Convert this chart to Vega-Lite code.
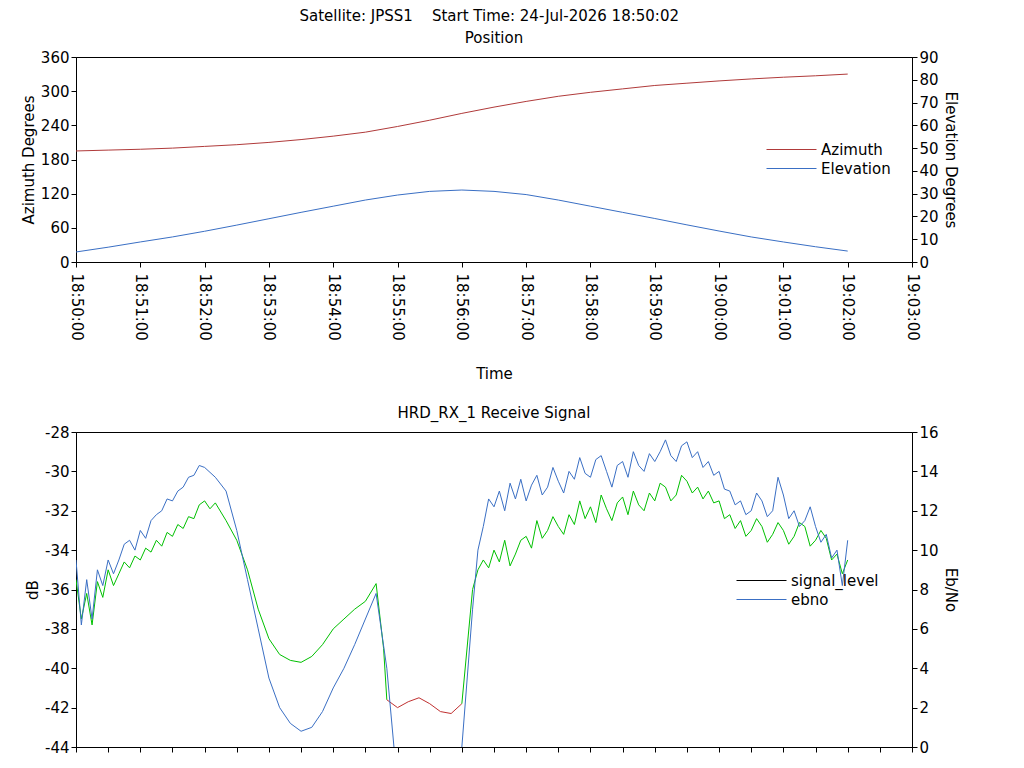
{
  "$schema": "https://vega.github.io/schema/vega-lite/v6.json",
  "padding": {"left": 20, "top": 8, "right": 5, "bottom": 0},
  "background": "white",
  "title": {"text": "Satellite: JPSS1\u00a0\u00a0\u00a0\u00a0Start Time: 24-Jul-2026 18:50:02", "anchor": "middle", "fontSize": 15, "fontWeight": "normal", "color": "black", "offset": 7},
  "config": {
    "font": "DejaVu Sans",
    "view": {"stroke": "black", "strokeWidth": 1},
    "axis": {"grid": false, "labelFontSize": 15, "titleFontSize": 15, "titleFontWeight": "normal", "labelColor": "black", "titleColor": "black", "domainColor": "black", "tickColor": "black", "labelExpr": "isDate(datum.value) ? datum.label : '' + datum.value"},
    "title": {"fontSize": 15, "fontWeight": "normal", "offset": 4},
    "legend": {"labelFontSize": 15, "symbolType": "stroke", "symbolSize": 2500, "symbolStrokeWidth": 1, "clipHeight": 17, "rowPadding": 2}
  },
  "datasets": {
    "pos": [
      {"t": "2026-07-24T18:50:00", "az": 195, "el": 4.4},
      {"t": "2026-07-24T18:50:30", "az": 196.5, "el": 6.5},
      {"t": "2026-07-24T18:51:00", "az": 198, "el": 8.8},
      {"t": "2026-07-24T18:51:30", "az": 200, "el": 11},
      {"t": "2026-07-24T18:52:00", "az": 203, "el": 13.5},
      {"t": "2026-07-24T18:52:30", "az": 206, "el": 16.2},
      {"t": "2026-07-24T18:53:00", "az": 210, "el": 19},
      {"t": "2026-07-24T18:53:30", "az": 215, "el": 21.8},
      {"t": "2026-07-24T18:54:00", "az": 221, "el": 24.5},
      {"t": "2026-07-24T18:54:30", "az": 228, "el": 27.2},
      {"t": "2026-07-24T18:55:00", "az": 238, "el": 29.4},
      {"t": "2026-07-24T18:55:30", "az": 249, "el": 31},
      {"t": "2026-07-24T18:56:00", "az": 261, "el": 31.6},
      {"t": "2026-07-24T18:56:30", "az": 272, "el": 31},
      {"t": "2026-07-24T18:57:00", "az": 282, "el": 29.6},
      {"t": "2026-07-24T18:57:30", "az": 291, "el": 27.2},
      {"t": "2026-07-24T18:58:00", "az": 298, "el": 24.5},
      {"t": "2026-07-24T18:58:30", "az": 304, "el": 21.8},
      {"t": "2026-07-24T18:59:00", "az": 310, "el": 19.1},
      {"t": "2026-07-24T18:59:30", "az": 314, "el": 16.3},
      {"t": "2026-07-24T19:00:00", "az": 318, "el": 13.6},
      {"t": "2026-07-24T19:00:30", "az": 321.5, "el": 11},
      {"t": "2026-07-24T19:01:00", "az": 324.5, "el": 8.8},
      {"t": "2026-07-24T19:01:30", "az": 327, "el": 6.7},
      {"t": "2026-07-24T19:02:00", "az": 330, "el": 4.8}
    ],
    "sig": [
      {"t": "2026-07-24T18:50:00", "db": -35.5, "lock": "locked"},
      {"t": "2026-07-24T18:50:05", "db": -37.5, "lock": "locked"},
      {"t": "2026-07-24T18:50:10", "db": -36.2, "lock": "locked"},
      {"t": "2026-07-24T18:50:15", "db": -37.8, "lock": "locked"},
      {"t": "2026-07-24T18:50:20", "db": -35.6, "lock": "locked"},
      {"t": "2026-07-24T18:50:25", "db": -36.4, "lock": "locked"},
      {"t": "2026-07-24T18:50:30", "db": -35, "lock": "locked"},
      {"t": "2026-07-24T18:50:35", "db": -35.8, "lock": "locked"},
      {"t": "2026-07-24T18:50:40", "db": -35.2, "lock": "locked"},
      {"t": "2026-07-24T18:50:45", "db": -34.6, "lock": "locked"},
      {"t": "2026-07-24T18:50:50", "db": -34.9, "lock": "locked"},
      {"t": "2026-07-24T18:50:55", "db": -34.3, "lock": "locked"},
      {"t": "2026-07-24T18:51:00", "db": -34.5, "lock": "locked"},
      {"t": "2026-07-24T18:51:05", "db": -33.9, "lock": "locked"},
      {"t": "2026-07-24T18:51:10", "db": -34.1, "lock": "locked"},
      {"t": "2026-07-24T18:51:15", "db": -33.5, "lock": "locked"},
      {"t": "2026-07-24T18:51:20", "db": -33.8, "lock": "locked"},
      {"t": "2026-07-24T18:51:25", "db": -33.1, "lock": "locked"},
      {"t": "2026-07-24T18:51:30", "db": -33.3, "lock": "locked"},
      {"t": "2026-07-24T18:51:35", "db": -32.7, "lock": "locked"},
      {"t": "2026-07-24T18:51:40", "db": -32.9, "lock": "locked"},
      {"t": "2026-07-24T18:51:45", "db": -32.3, "lock": "locked"},
      {"t": "2026-07-24T18:51:50", "db": -32.4, "lock": "locked"},
      {"t": "2026-07-24T18:51:55", "db": -31.7, "lock": "locked"},
      {"t": "2026-07-24T18:52:00", "db": -31.5, "lock": "locked"},
      {"t": "2026-07-24T18:52:05", "db": -31.9, "lock": "locked"},
      {"t": "2026-07-24T18:52:10", "db": -31.6, "lock": "locked"},
      {"t": "2026-07-24T18:52:20", "db": -32.5, "lock": "locked"},
      {"t": "2026-07-24T18:52:30", "db": -33.5, "lock": "locked"},
      {"t": "2026-07-24T18:52:40", "db": -35, "lock": "locked"},
      {"t": "2026-07-24T18:52:50", "db": -37, "lock": "locked"},
      {"t": "2026-07-24T18:53:00", "db": -38.5, "lock": "locked"},
      {"t": "2026-07-24T18:53:10", "db": -39.3, "lock": "locked"},
      {"t": "2026-07-24T18:53:20", "db": -39.6, "lock": "locked"},
      {"t": "2026-07-24T18:53:30", "db": -39.7, "lock": "locked"},
      {"t": "2026-07-24T18:53:40", "db": -39.4, "lock": "locked"},
      {"t": "2026-07-24T18:53:50", "db": -38.8, "lock": "locked"},
      {"t": "2026-07-24T18:54:00", "db": -38, "lock": "locked"},
      {"t": "2026-07-24T18:54:10", "db": -37.5, "lock": "locked"},
      {"t": "2026-07-24T18:54:20", "db": -37, "lock": "locked"},
      {"t": "2026-07-24T18:54:30", "db": -36.6, "lock": "locked"},
      {"t": "2026-07-24T18:54:40", "db": -35.7, "lock": "locked"},
      {"t": "2026-07-24T18:54:47", "db": -39, "lock": "locked"},
      {"t": "2026-07-24T18:54:50", "db": -41.6, "lock": "locked"},
      {"t": "2026-07-24T18:54:50", "db": -41.6, "lock": "unlocked"},
      {"t": "2026-07-24T18:55:00", "db": -42, "lock": "unlocked"},
      {"t": "2026-07-24T18:55:10", "db": -41.7, "lock": "unlocked"},
      {"t": "2026-07-24T18:55:20", "db": -41.5, "lock": "unlocked"},
      {"t": "2026-07-24T18:55:30", "db": -41.8, "lock": "unlocked"},
      {"t": "2026-07-24T18:55:40", "db": -42.2, "lock": "unlocked"},
      {"t": "2026-07-24T18:55:50", "db": -42.3, "lock": "unlocked"},
      {"t": "2026-07-24T18:56:00", "db": -41.8, "lock": "unlocked"},
      {"t": "2026-07-24T18:56:00", "db": -41.8, "lock": "locked2"},
      {"t": "2026-07-24T18:56:10", "db": -36, "lock": "locked2"},
      {"t": "2026-07-24T18:56:15", "db": -35, "lock": "locked2"},
      {"t": "2026-07-24T18:56:20", "db": -34.5, "lock": "locked2"},
      {"t": "2026-07-24T18:56:25", "db": -34.9, "lock": "locked2"},
      {"t": "2026-07-24T18:56:30", "db": -34, "lock": "locked2"},
      {"t": "2026-07-24T18:56:35", "db": -34.6, "lock": "locked2"},
      {"t": "2026-07-24T18:56:40", "db": -33.5, "lock": "locked2"},
      {"t": "2026-07-24T18:56:45", "db": -34.8, "lock": "locked2"},
      {"t": "2026-07-24T18:56:50", "db": -34.2, "lock": "locked2"},
      {"t": "2026-07-24T18:56:55", "db": -33.5, "lock": "locked2"},
      {"t": "2026-07-24T18:57:00", "db": -33.3, "lock": "locked2"},
      {"t": "2026-07-24T18:57:05", "db": -33.9, "lock": "locked2"},
      {"t": "2026-07-24T18:57:10", "db": -32.5, "lock": "locked2"},
      {"t": "2026-07-24T18:57:15", "db": -33.4, "lock": "locked2"},
      {"t": "2026-07-24T18:57:20", "db": -33, "lock": "locked2"},
      {"t": "2026-07-24T18:57:25", "db": -32.3, "lock": "locked2"},
      {"t": "2026-07-24T18:57:30", "db": -32.8, "lock": "locked2"},
      {"t": "2026-07-24T18:57:35", "db": -33.2, "lock": "locked2"},
      {"t": "2026-07-24T18:57:40", "db": -32.2, "lock": "locked2"},
      {"t": "2026-07-24T18:57:45", "db": -32.7, "lock": "locked2"},
      {"t": "2026-07-24T18:57:50", "db": -31.5, "lock": "locked2"},
      {"t": "2026-07-24T18:57:55", "db": -32.4, "lock": "locked2"},
      {"t": "2026-07-24T18:58:00", "db": -31.8, "lock": "locked2"},
      {"t": "2026-07-24T18:58:05", "db": -32.6, "lock": "locked2"},
      {"t": "2026-07-24T18:58:10", "db": -31.2, "lock": "locked2"},
      {"t": "2026-07-24T18:58:15", "db": -31.9, "lock": "locked2"},
      {"t": "2026-07-24T18:58:20", "db": -32.5, "lock": "locked2"},
      {"t": "2026-07-24T18:58:25", "db": -31.6, "lock": "locked2"},
      {"t": "2026-07-24T18:58:30", "db": -31.3, "lock": "locked2"},
      {"t": "2026-07-24T18:58:35", "db": -32.2, "lock": "locked2"},
      {"t": "2026-07-24T18:58:40", "db": -31, "lock": "locked2"},
      {"t": "2026-07-24T18:58:45", "db": -31.7, "lock": "locked2"},
      {"t": "2026-07-24T18:58:50", "db": -32, "lock": "locked2"},
      {"t": "2026-07-24T18:58:55", "db": -31.1, "lock": "locked2"},
      {"t": "2026-07-24T18:59:00", "db": -31.5, "lock": "locked2"},
      {"t": "2026-07-24T18:59:05", "db": -30.6, "lock": "locked2"},
      {"t": "2026-07-24T18:59:10", "db": -30.8, "lock": "locked2"},
      {"t": "2026-07-24T18:59:15", "db": -31.5, "lock": "locked2"},
      {"t": "2026-07-24T18:59:20", "db": -31.2, "lock": "locked2"},
      {"t": "2026-07-24T18:59:25", "db": -30.2, "lock": "locked2"},
      {"t": "2026-07-24T18:59:30", "db": -30.5, "lock": "locked2"},
      {"t": "2026-07-24T18:59:35", "db": -31.1, "lock": "locked2"},
      {"t": "2026-07-24T18:59:40", "db": -30.8, "lock": "locked2"},
      {"t": "2026-07-24T18:59:45", "db": -31.4, "lock": "locked2"},
      {"t": "2026-07-24T18:59:50", "db": -31, "lock": "locked2"},
      {"t": "2026-07-24T18:59:55", "db": -31.6, "lock": "locked2"},
      {"t": "2026-07-24T19:00:00", "db": -31.5, "lock": "locked2"},
      {"t": "2026-07-24T19:00:05", "db": -32.4, "lock": "locked2"},
      {"t": "2026-07-24T19:00:10", "db": -32.2, "lock": "locked2"},
      {"t": "2026-07-24T19:00:15", "db": -32.9, "lock": "locked2"},
      {"t": "2026-07-24T19:00:20", "db": -32.5, "lock": "locked2"},
      {"t": "2026-07-24T19:00:25", "db": -33.3, "lock": "locked2"},
      {"t": "2026-07-24T19:00:30", "db": -33, "lock": "locked2"},
      {"t": "2026-07-24T19:00:35", "db": -32.4, "lock": "locked2"},
      {"t": "2026-07-24T19:00:40", "db": -32.8, "lock": "locked2"},
      {"t": "2026-07-24T19:00:45", "db": -33.6, "lock": "locked2"},
      {"t": "2026-07-24T19:00:50", "db": -33.2, "lock": "locked2"},
      {"t": "2026-07-24T19:00:55", "db": -32.6, "lock": "locked2"},
      {"t": "2026-07-24T19:01:00", "db": -33, "lock": "locked2"},
      {"t": "2026-07-24T19:01:05", "db": -33.7, "lock": "locked2"},
      {"t": "2026-07-24T19:01:10", "db": -33.3, "lock": "locked2"},
      {"t": "2026-07-24T19:01:15", "db": -32.6, "lock": "locked2"},
      {"t": "2026-07-24T19:01:20", "db": -32.8, "lock": "locked2"},
      {"t": "2026-07-24T19:01:25", "db": -33.8, "lock": "locked2"},
      {"t": "2026-07-24T19:01:30", "db": -33.5, "lock": "locked2"},
      {"t": "2026-07-24T19:01:35", "db": -33, "lock": "locked2"},
      {"t": "2026-07-24T19:01:40", "db": -33.4, "lock": "locked2"},
      {"t": "2026-07-24T19:01:45", "db": -34.5, "lock": "locked2"},
      {"t": "2026-07-24T19:01:50", "db": -34.2, "lock": "locked2"},
      {"t": "2026-07-24T19:01:55", "db": -35.2, "lock": "locked2"},
      {"t": "2026-07-24T19:02:00", "db": -34.5, "lock": "locked2"}
    ],
    "ebno": [
      {"t": "2026-07-24T18:50:00", "v": 9.5, "s": "ebno"},
      {"t": "2026-07-24T18:50:05", "v": 6.2, "s": "ebno"},
      {"t": "2026-07-24T18:50:10", "v": 8.5, "s": "ebno"},
      {"t": "2026-07-24T18:50:15", "v": 6.5, "s": "ebno"},
      {"t": "2026-07-24T18:50:20", "v": 9, "s": "ebno"},
      {"t": "2026-07-24T18:50:25", "v": 8.2, "s": "ebno"},
      {"t": "2026-07-24T18:50:30", "v": 9.5, "s": "ebno"},
      {"t": "2026-07-24T18:50:35", "v": 8.8, "s": "ebno"},
      {"t": "2026-07-24T18:50:40", "v": 9.5, "s": "ebno"},
      {"t": "2026-07-24T18:50:45", "v": 10.3, "s": "ebno"},
      {"t": "2026-07-24T18:50:50", "v": 10.5, "s": "ebno"},
      {"t": "2026-07-24T18:50:55", "v": 10, "s": "ebno"},
      {"t": "2026-07-24T18:51:00", "v": 11, "s": "ebno"},
      {"t": "2026-07-24T18:51:05", "v": 10.6, "s": "ebno"},
      {"t": "2026-07-24T18:51:10", "v": 11.5, "s": "ebno"},
      {"t": "2026-07-24T18:51:15", "v": 11.8, "s": "ebno"},
      {"t": "2026-07-24T18:51:20", "v": 12, "s": "ebno"},
      {"t": "2026-07-24T18:51:25", "v": 12.6, "s": "ebno"},
      {"t": "2026-07-24T18:51:30", "v": 12.5, "s": "ebno"},
      {"t": "2026-07-24T18:51:35", "v": 13, "s": "ebno"},
      {"t": "2026-07-24T18:51:40", "v": 13.2, "s": "ebno"},
      {"t": "2026-07-24T18:51:45", "v": 13.7, "s": "ebno"},
      {"t": "2026-07-24T18:51:50", "v": 13.8, "s": "ebno"},
      {"t": "2026-07-24T18:51:55", "v": 14.3, "s": "ebno"},
      {"t": "2026-07-24T18:52:00", "v": 14.2, "s": "ebno"},
      {"t": "2026-07-24T18:52:10", "v": 13.7, "s": "ebno"},
      {"t": "2026-07-24T18:52:20", "v": 13, "s": "ebno"},
      {"t": "2026-07-24T18:52:30", "v": 11, "s": "ebno"},
      {"t": "2026-07-24T18:52:40", "v": 8.5, "s": "ebno"},
      {"t": "2026-07-24T18:52:50", "v": 6, "s": "ebno"},
      {"t": "2026-07-24T18:53:00", "v": 3.5, "s": "ebno"},
      {"t": "2026-07-24T18:53:10", "v": 2, "s": "ebno"},
      {"t": "2026-07-24T18:53:20", "v": 1.2, "s": "ebno"},
      {"t": "2026-07-24T18:53:30", "v": 0.8, "s": "ebno"},
      {"t": "2026-07-24T18:53:40", "v": 1, "s": "ebno"},
      {"t": "2026-07-24T18:53:50", "v": 1.8, "s": "ebno"},
      {"t": "2026-07-24T18:54:00", "v": 3, "s": "ebno"},
      {"t": "2026-07-24T18:54:10", "v": 4, "s": "ebno"},
      {"t": "2026-07-24T18:54:20", "v": 5.2, "s": "ebno"},
      {"t": "2026-07-24T18:54:30", "v": 6.5, "s": "ebno"},
      {"t": "2026-07-24T18:54:40", "v": 7.8, "s": "ebno"},
      {"t": "2026-07-24T18:54:50", "v": 4, "s": "ebno"},
      {"t": "2026-07-24T18:55:00", "v": -2, "s": "ebno"},
      {"t": "2026-07-24T18:55:30", "v": -3, "s": "ebno"},
      {"t": "2026-07-24T18:55:55", "v": -2, "s": "ebno"},
      {"t": "2026-07-24T18:56:00", "v": 0, "s": "ebno"},
      {"t": "2026-07-24T18:56:10", "v": 7, "s": "ebno"},
      {"t": "2026-07-24T18:56:15", "v": 10, "s": "ebno"},
      {"t": "2026-07-24T18:56:20", "v": 11.2, "s": "ebno"},
      {"t": "2026-07-24T18:56:25", "v": 12.6, "s": "ebno"},
      {"t": "2026-07-24T18:56:30", "v": 12.2, "s": "ebno"},
      {"t": "2026-07-24T18:56:35", "v": 13, "s": "ebno"},
      {"t": "2026-07-24T18:56:40", "v": 12, "s": "ebno"},
      {"t": "2026-07-24T18:56:45", "v": 13.4, "s": "ebno"},
      {"t": "2026-07-24T18:56:50", "v": 12.6, "s": "ebno"},
      {"t": "2026-07-24T18:56:55", "v": 13.6, "s": "ebno"},
      {"t": "2026-07-24T18:57:00", "v": 12.5, "s": "ebno"},
      {"t": "2026-07-24T18:57:05", "v": 13.3, "s": "ebno"},
      {"t": "2026-07-24T18:57:10", "v": 13.8, "s": "ebno"},
      {"t": "2026-07-24T18:57:15", "v": 12.8, "s": "ebno"},
      {"t": "2026-07-24T18:57:20", "v": 13.2, "s": "ebno"},
      {"t": "2026-07-24T18:57:25", "v": 14.2, "s": "ebno"},
      {"t": "2026-07-24T18:57:30", "v": 13.5, "s": "ebno"},
      {"t": "2026-07-24T18:57:35", "v": 12.9, "s": "ebno"},
      {"t": "2026-07-24T18:57:40", "v": 14, "s": "ebno"},
      {"t": "2026-07-24T18:57:45", "v": 13.6, "s": "ebno"},
      {"t": "2026-07-24T18:57:50", "v": 14.7, "s": "ebno"},
      {"t": "2026-07-24T18:57:55", "v": 13.9, "s": "ebno"},
      {"t": "2026-07-24T18:58:00", "v": 13.7, "s": "ebno"},
      {"t": "2026-07-24T18:58:05", "v": 14.6, "s": "ebno"},
      {"t": "2026-07-24T18:58:10", "v": 14.8, "s": "ebno"},
      {"t": "2026-07-24T18:58:15", "v": 14, "s": "ebno"},
      {"t": "2026-07-24T18:58:20", "v": 13.2, "s": "ebno"},
      {"t": "2026-07-24T18:58:25", "v": 14.3, "s": "ebno"},
      {"t": "2026-07-24T18:58:30", "v": 14.5, "s": "ebno"},
      {"t": "2026-07-24T18:58:35", "v": 13.7, "s": "ebno"},
      {"t": "2026-07-24T18:58:40", "v": 15, "s": "ebno"},
      {"t": "2026-07-24T18:58:45", "v": 14.3, "s": "ebno"},
      {"t": "2026-07-24T18:58:50", "v": 14, "s": "ebno"},
      {"t": "2026-07-24T18:58:55", "v": 14.9, "s": "ebno"},
      {"t": "2026-07-24T18:59:00", "v": 14.5, "s": "ebno"},
      {"t": "2026-07-24T18:59:05", "v": 15, "s": "ebno"},
      {"t": "2026-07-24T18:59:10", "v": 15.6, "s": "ebno"},
      {"t": "2026-07-24T18:59:15", "v": 14.8, "s": "ebno"},
      {"t": "2026-07-24T18:59:20", "v": 14.5, "s": "ebno"},
      {"t": "2026-07-24T18:59:25", "v": 15.3, "s": "ebno"},
      {"t": "2026-07-24T18:59:30", "v": 15.5, "s": "ebno"},
      {"t": "2026-07-24T18:59:35", "v": 14.7, "s": "ebno"},
      {"t": "2026-07-24T18:59:40", "v": 15, "s": "ebno"},
      {"t": "2026-07-24T18:59:45", "v": 14.2, "s": "ebno"},
      {"t": "2026-07-24T18:59:50", "v": 14.5, "s": "ebno"},
      {"t": "2026-07-24T18:59:55", "v": 13.8, "s": "ebno"},
      {"t": "2026-07-24T19:00:00", "v": 14, "s": "ebno"},
      {"t": "2026-07-24T19:00:05", "v": 13.1, "s": "ebno"},
      {"t": "2026-07-24T19:00:10", "v": 13, "s": "ebno"},
      {"t": "2026-07-24T19:00:15", "v": 12.3, "s": "ebno"},
      {"t": "2026-07-24T19:00:20", "v": 12.5, "s": "ebno"},
      {"t": "2026-07-24T19:00:25", "v": 11.8, "s": "ebno"},
      {"t": "2026-07-24T19:00:30", "v": 12, "s": "ebno"},
      {"t": "2026-07-24T19:00:35", "v": 12.9, "s": "ebno"},
      {"t": "2026-07-24T19:00:40", "v": 12.5, "s": "ebno"},
      {"t": "2026-07-24T19:00:45", "v": 11.7, "s": "ebno"},
      {"t": "2026-07-24T19:00:50", "v": 12, "s": "ebno"},
      {"t": "2026-07-24T19:00:55", "v": 13.7, "s": "ebno"},
      {"t": "2026-07-24T19:01:00", "v": 12.8, "s": "ebno"},
      {"t": "2026-07-24T19:01:05", "v": 11.6, "s": "ebno"},
      {"t": "2026-07-24T19:01:10", "v": 12, "s": "ebno"},
      {"t": "2026-07-24T19:01:15", "v": 11.2, "s": "ebno"},
      {"t": "2026-07-24T19:01:20", "v": 11.5, "s": "ebno"},
      {"t": "2026-07-24T19:01:25", "v": 12.2, "s": "ebno"},
      {"t": "2026-07-24T19:01:30", "v": 11.2, "s": "ebno"},
      {"t": "2026-07-24T19:01:35", "v": 10.4, "s": "ebno"},
      {"t": "2026-07-24T19:01:40", "v": 10.8, "s": "ebno"},
      {"t": "2026-07-24T19:01:45", "v": 9.6, "s": "ebno"},
      {"t": "2026-07-24T19:01:50", "v": 10, "s": "ebno"},
      {"t": "2026-07-24T19:01:55", "v": 8.2, "s": "ebno"},
      {"t": "2026-07-24T19:02:00", "v": 10.5, "s": "ebno"}
    ]
  },
  "spacing": 23,
  "vconcat": [
    {
      "title": "Position",
      "width": 836,
      "height": 205,
      "data": {"name": "pos"},
      "layer": [
        {
          "mark": {"type": "line", "strokeWidth": 1},
          "encoding": {
            "x": {"field": "t", "type": "temporal", "title": "Time",
              "scale": {"domain": [{"year": 2026, "month": 7, "date": 24, "hours": 18, "minutes": 50}, {"year": 2026, "month": 7, "date": 24, "hours": 19, "minutes": 3}]},
              "axis": {"format": "%H:%M:%S", "labelAngle": 90, "labelPadding": 6, "titlePadding": 26, "labelOverlap": false,
                "values": [
                  {"year": 2026, "month": 7, "date": 24, "hours": 18, "minutes": 50},
                  {"year": 2026, "month": 7, "date": 24, "hours": 18, "minutes": 51},
                  {"year": 2026, "month": 7, "date": 24, "hours": 18, "minutes": 52},
                  {"year": 2026, "month": 7, "date": 24, "hours": 18, "minutes": 53},
                  {"year": 2026, "month": 7, "date": 24, "hours": 18, "minutes": 54},
                  {"year": 2026, "month": 7, "date": 24, "hours": 18, "minutes": 55},
                  {"year": 2026, "month": 7, "date": 24, "hours": 18, "minutes": 56},
                  {"year": 2026, "month": 7, "date": 24, "hours": 18, "minutes": 57},
                  {"year": 2026, "month": 7, "date": 24, "hours": 18, "minutes": 58},
                  {"year": 2026, "month": 7, "date": 24, "hours": 18, "minutes": 59},
                  {"year": 2026, "month": 7, "date": 24, "hours": 19, "minutes": 0},
                  {"year": 2026, "month": 7, "date": 24, "hours": 19, "minutes": 1},
                  {"year": 2026, "month": 7, "date": 24, "hours": 19, "minutes": 2},
                  {"year": 2026, "month": 7, "date": 24, "hours": 19, "minutes": 3}
                ]}},
            "y": {"field": "az", "type": "quantitative", "title": "Azimuth Degrees",
              "scale": {"domain": [0, 360]}, "axis": {"values": [0, 60, 120, 180, 240, 300, 360]}},
            "color": {"datum": "Azimuth", "scale": {"domain": ["Azimuth", "Elevation"], "range": ["#b03a3a", "#3a6fc4"]},
              "legend": {"title": null, "orient": "none", "legendX": 690, "legendY": 84}}
          }
        },
        {
          "mark": {"type": "line", "strokeWidth": 1},
          "encoding": {
            "x": {"field": "t", "type": "temporal"},
            "y": {"field": "el", "type": "quantitative", "title": "Elevation Degrees",
              "scale": {"domain": [0, 90]}, "axis": {"orient": "right", "values": [0, 10, 20, 30, 40, 50, 60, 70, 80, 90]}},
            "color": {"datum": "Elevation"}
          }
        }
      ],
      "resolve": {"scale": {"y": "independent"}}
    },
    {
      "title": "HRD_RX_1 Receive Signal",
      "width": 836,
      "height": 315,
      "layer": [
        {
          "data": {"name": "sig"},
          "mark": {"type": "line", "strokeWidth": 1, "clip": true},
          "encoding": {
            "x": {"field": "t", "type": "temporal", "title": null,
              "scale": {"domain": [{"year": 2026, "month": 7, "date": 24, "hours": 18, "minutes": 50}, {"year": 2026, "month": 7, "date": 24, "hours": 19, "minutes": 3}]},
              "axis": {"labels": false}},
            "y": {"field": "db", "type": "quantitative", "title": "dB",
              "scale": {"domain": [-44, -28]}, "axis": {"values": [-44, -42, -40, -38, -36, -34, -32, -30, -28]}},
            "detail": {"field": "lock"},
            "color": {"field": "lock", "type": "nominal", "scale": {"domain": ["locked", "unlocked", "locked2"], "range": ["#00c000", "#c03030", "#00c000"]}, "legend": null}
          }
        },
        {
          "data": {"name": "ebno"},
          "mark": {"type": "line", "strokeWidth": 1, "clip": true},
          "encoding": {
            "x": {"field": "t", "type": "temporal"},
            "y": {"field": "v", "type": "quantitative", "title": "Eb/No",
              "scale": {"domain": [0, 16]}, "axis": {"orient": "right", "values": [0, 2, 4, 6, 8, 10, 12, 14, 16]}},
            "color": {"field": "s", "type": "nominal", "scale": {"domain": ["signal_level", "ebno"], "range": ["black", "#3a6fc4"]},
              "legend": {"title": null, "orient": "none", "legendX": 660, "legendY": 140}}
          }
        }
      ],
      "resolve": {"scale": {"y": "independent", "color": "independent"}}
    }
  ]
}
